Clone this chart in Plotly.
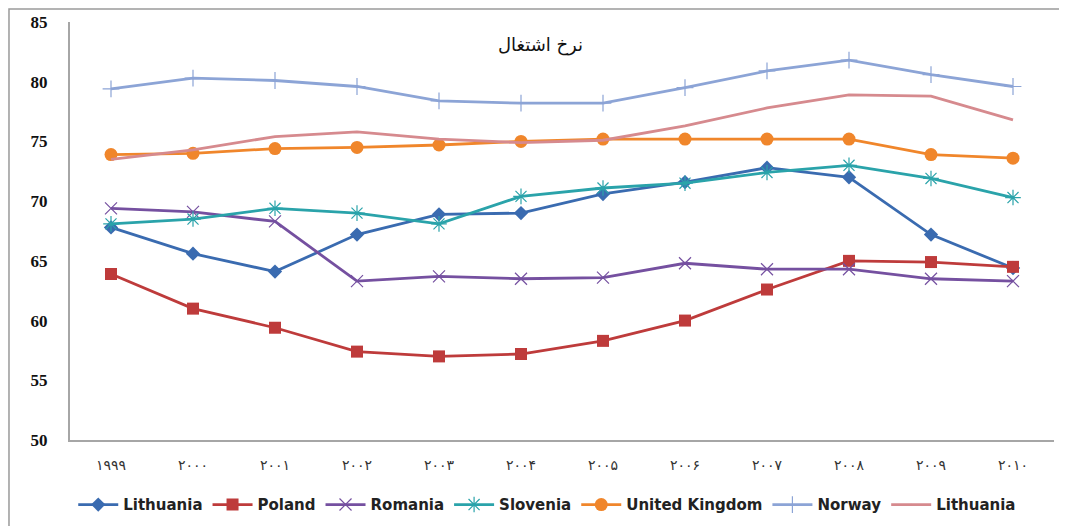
import plotly.graph_objects as go

years = ["۱۹۹۹", "۲۰۰۰", "۲۰۰۱", "۲۰۰۲", "۲۰۰۳", "۲۰۰۴", "۲۰۰۵", "۲۰۰۶", "۲۰۰۷", "۲۰۰۸", "۲۰۰۹", "۲۰۱۰"]

lithuania_a = [67.8, 65.6, 64.1, 67.2, 68.9, 69.0, 70.6, 71.6, 72.8, 72.0, 67.2, 64.4]
poland = [63.9, 61.0, 59.4, 57.4, 57.0, 57.2, 58.3, 60.0, 62.6, 65.0, 64.9, 64.5]
romania = [69.4, 69.1, 68.3, 63.3, 63.7, 63.5, 63.6, 64.8, 64.3, 64.3, 63.5, 63.3]
slovenia = [68.1, 68.5, 69.4, 69.0, 68.1, 70.4, 71.1, 71.5, 72.4, 73.0, 71.9, 70.3]
uk = [73.9, 74.0, 74.4, 74.5, 74.7, 75.0, 75.2, 75.2, 75.2, 75.2, 73.9, 73.6]
norway = [79.4, 80.3, 80.1, 79.6, 78.4, 78.2, 78.2, 79.5, 80.9, 81.8, 80.6, 79.6]
lithuania_b = [73.5, 74.3, 75.4, 75.8, 75.2, 74.9, 75.1, 76.3, 77.8, 78.9, 78.8, 76.8]

title_text = "نرخ اشتغال"
y_ticks = [50, 55, 60, 65, 70, 75, 80, 85]

series = [
    ("Lithuania", lithuania_a, "#3A6BB0", dict(symbol="diamond", size=11)),
    ("Poland", poland, "#BE3B3B", dict(symbol="square", size=12)),
    ("Romania", romania, "#7550A0", dict(symbol="x-thin-open", size=12, line=dict(width=1.2, color="#7550A0"))),
    ("Slovenia", slovenia, "#2AA3AA", dict(symbol="asterisk-open", size=13, line=dict(width=1.2, color="#2AA3AA"))),
    ("United Kingdom", uk, "#F0862B", dict(symbol="circle", size=13)),
    ("Norway", norway, "#8CA4D6", dict(symbol="cross-thin-open", size=12, line=dict(width=1.2, color="#7F96C8"))),
    ("Lithuania", lithuania_b, "#D68A8E", dict(symbol="circle", size=1, opacity=0)),
]

fig = go.Figure()
x_idx = list(range(len(years)))
for name, vals, color, mk in series:
    mk = dict(mk)
    mk.setdefault("color", color)
    fig.add_trace(go.Scatter(
        x=x_idx, y=vals, name=name, mode="lines+markers",
        line=dict(color=color, width=2.8),
        marker=mk,
    ))

fig.update_layout(
    width=1067, height=526,
    margin=dict(l=62, r=21, t=14, b=94, autoexpand=False),
    paper_bgcolor="white", plot_bgcolor="white",
    showlegend=True,
    legend=dict(orientation="h", x=0.485, xanchor="center", y=-0.155, yanchor="middle",
                font=dict(family="DejaVu Sans", size=15, color="#222222", weight="bold"),
                itemwidth=40, tracegroupgap=0),
    xaxis=dict(range=[-0.5, 11.5], tickmode="array", tickvals=x_idx, ticktext=years,
               showgrid=False, zeroline=False, showline=True, linecolor="#A6A6A6", linewidth=2,
               ticks="", tickfont=dict(family="DejaVu Sans", size=14, color="#333333"),
               ticklabelstandoff=11),
    yaxis=dict(range=[50, 85], tickmode="array", tickvals=y_ticks,
               showgrid=False, zeroline=False, showline=True, linecolor="#A6A6A6", linewidth=2,
               ticks="", tickfont=dict(family="Liberation Serif", size=17, color="#111111", weight="bold"),
               ticklabelstandoff=17),
    font=dict(family="DejaVu Sans"),
)

fig.add_annotation(text=title_text, xref="paper", yref="paper", x=0.478, y=0.975,
                   showarrow=False, font=dict(family="DejaVu Sans", size=18, color="#111111"))

fig.add_shape(type="rect", xref="paper", yref="paper", x0=-0.062, x1=1.03, y0=-0.25, y1=1.031,
              line=dict(color="#9A9A9A", width=1.5), fillcolor="rgba(0,0,0,0)", layer="below")

fig.write_html("out.html")
